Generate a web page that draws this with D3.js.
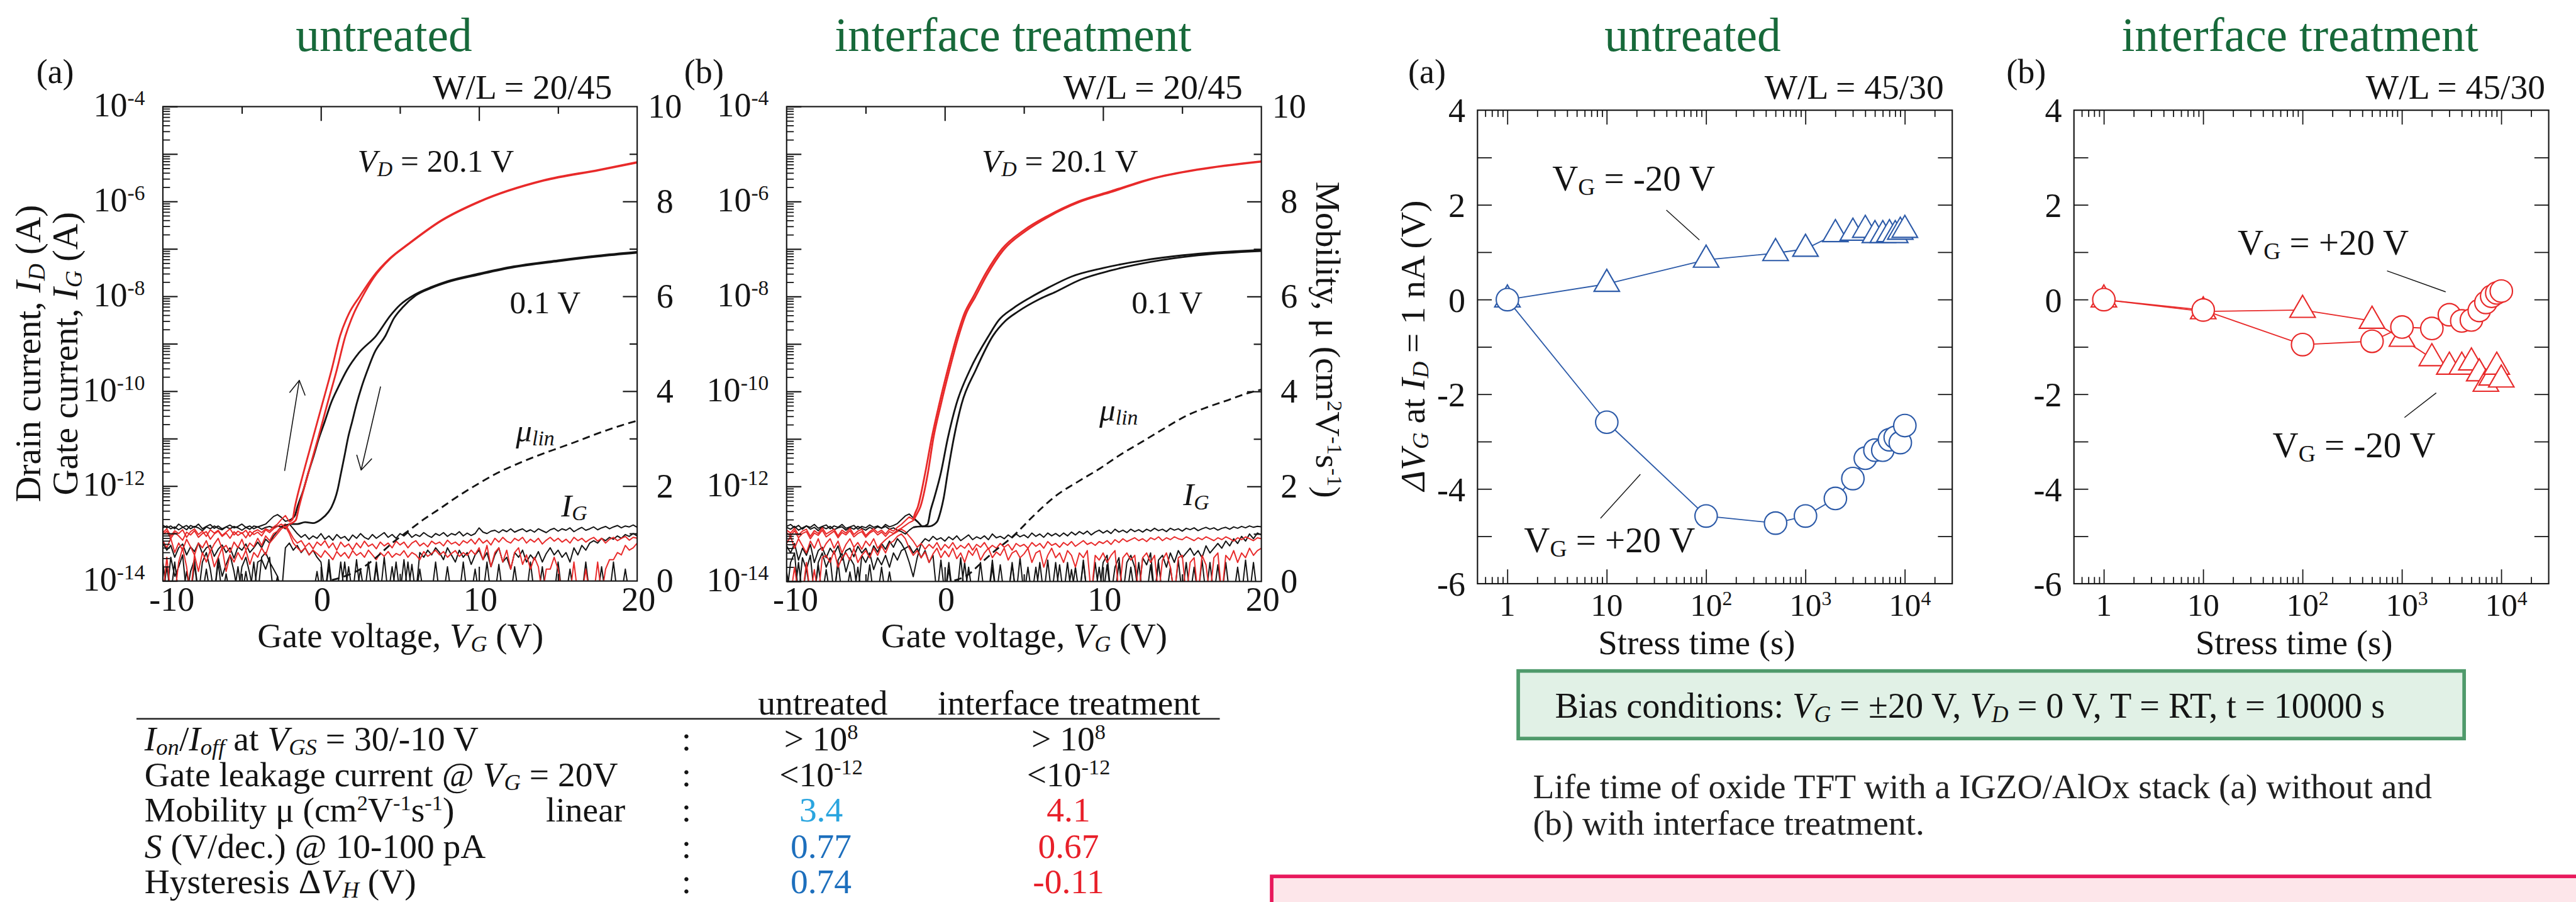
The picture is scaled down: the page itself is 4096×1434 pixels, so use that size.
<!DOCTYPE html>
<html>
<head>
<meta charset="utf-8">
<title>IGZO/AlOx TFT transfer curves and bias stress</title>
<style>
  body { margin: 0; background: #fff; }
  svg { display: block; }
  text { font-family: "Liberation Serif", "Times New Roman", Times, serif; }
</style>
</head>
<body>
<svg id="fig" width="4096" height="1434" viewBox="0 0 5757 2015"></svg>
<script src="https://d3js.org/d3.v7.min.js"></script>
<script>
// ---------- data (log10 of current in A, mobility in cm2/Vs, shift in V) ----------

// noise traces are sampled every 0.25 V starting at -10 V
var NOISE_VG0 = -10, NOISE_STEP = 0.25;

// panel (a) untreated : off-state drain current, -10 .. -2 V
var offBlkA1 = [-12.82,-12.88,-12.84,-12.9,-12.8,-12.86,-12.92,-12.83,-12.87,-12.8,
  -12.9,-12.85,-12.81,-12.89,-12.84,-12.9,-12.86,-12.82,-12.88,-12.85,
  -12.8,-12.87,-12.91,-12.84,-12.86,-12.83,-12.8,-12.72,-12.64,-12.6,-12.66,-12.74,-12.72];
var offBlkA2 = [-12.88,-12.84,-12.9,-12.86,-12.92,-12.87,-12.83,-12.9,-12.85,-12.88,
  -12.94,-12.86,-12.9,-12.84,-12.89,-12.92,-12.86,-12.9,-12.85,-12.88,
  -12.93,-12.87,-12.84,-12.9,-12.86,-12.91,-12.87,-12.85,-12.88,-12.84,-12.86,-12.82,-12.8];
var offRedA1 = [-12.98,-12.9,-13.05,-12.94,-13.0,-12.92,-13.08,-12.96,-12.9,-13.02,
  -12.95,-13.06,-12.92,-12.99,-12.93,-13.04,-12.97,-12.9,-13.03,-12.95,
  -13.0,-12.93,-13.06,-12.96,-12.92,-12.98,-12.9,-12.94,-12.86,-12.8,-12.7,-12.62,-12.75];
var offRedA2 = [-13.02,-12.95,-13.1,-12.98,-13.05,-13.14,-12.97,-13.03,-12.94,-13.08,
  -13.0,-12.96,-13.12,-13.01,-12.95,-13.06,-12.99,-13.1,-12.96,-13.04,
  -12.98,-13.09,-12.95,-13.02,-12.97,-13.05,-12.92,-12.98,-12.9,-12.85,-12.8,-12.88,-12.8];

// panel (a) gate current traces, -10 .. 20 V
var igBlkA1 = [-13.2,-13.35,-13.25,-13.5,-13.3,-13.22,-13.45,-13.28,-13.38,-13.2,
  -13.42,-13.3,-13.25,-13.48,-13.33,-13.24,-13.4,-13.3,-13.52,-13.28,
  -13.35,-13.22,-13.4,-13.3,-13.18,-13.3,-13.12,-13.2,-13.05,-12.95,
  -12.85,-12.9,-12.8,-12.9,-13.0,-13.08,-13.02,-13.12,-13.05,-13.1,
  -13.0,-13.12,-13.05,-13.14,-13.02,-13.1,-13.06,-13.15,-13.03,-13.1,
  -13.0,-13.08,-13.12,-13.02,-13.1,-13.04,-12.98,-13.08,-13.02,-13.1,
  -13.0,-13.05,-12.98,-13.08,-13.02,-13.06,-12.98,-13.04,-13.08,-13.0,
  -13.04,-12.98,-13.06,-13.0,-13.03,-12.96,-13.05,-12.99,-13.04,-13.0,
  -12.88,-12.97,-13.0,-12.95,-12.93,-12.98,-12.92,-12.96,-12.9,-12.97,
  -12.93,-12.9,-12.96,-12.92,-12.97,-12.9,-12.94,-12.98,-12.92,-12.89,
  -12.95,-12.9,-12.93,-12.88,-12.96,-12.91,-12.87,-12.93,-12.9,-12.86,
  -12.92,-12.88,-12.85,-12.9,-12.86,-12.83,-12.88,-12.84,-12.86,-12.82,-12.87];
var igBlkA2 = [-13.6,-14.3,-13.5,-13.9,-13.7,-13.45,-14.3,-13.8,-13.55,-14.3,
  -13.6,-13.4,-13.75,-14.3,-13.5,-13.9,-13.65,-13.45,-13.8,-14.3,
  -13.7,-13.5,-13.85,-14.3,-13.6,-13.55,-13.75,-13.5,-14.3,-13.9,
  -14.3,-13.3,-13.2,-13.35,-13.25,-13.4,-13.3,-13.45,-13.35,-13.5,
  -13.6,-14.3,-13.55,-14.3,-14.3,-13.6,-14.3,-13.7,-14.3,-13.55,
  -14.3,-14.3,-13.6,-14.3,-13.7,-14.3,-13.5,-14.3,-14.3,-13.6,
  -14.3,-13.55,-14.3,-13.65,-14.3,-13.4,-13.5,-13.35,-13.45,-13.3,
  -13.4,-13.55,-13.3,-13.45,-13.6,-13.35,-13.5,-13.4,-13.65,-13.45,
  -13.35,-13.55,-13.4,-13.7,-13.45,-13.3,-13.6,-13.5,-13.75,-13.4,
  -13.5,-13.35,-13.6,-13.45,-13.55,-13.38,-13.6,-13.42,-13.3,-13.45,
  -13.35,-13.5,-13.4,-13.6,-13.3,-13.45,-13.25,-13.35,-13.2,-13.15,
  -13.2,-13.1,-13.15,-13.08,-13.12,-13.05,-13.1,-13.02,-13.06,-13.0,-13.05];
var igBlkA3 = [-14.3,-13.7,-14.3,-13.6,-14.3,-14.3,-13.8,-14.3,-13.65,-14.3,
  -14.3,-13.75,-14.3,-14.3,-13.6,-14.3,-13.85,-14.3,-14.3,-13.7,
  -14.3,-13.8,-14.3,-13.6,-14.3,-13.5,-13.4,-13.6,-13.75,-13.9,
  -14.3,-14.3,-14.3,-14.3,-14.3,-14.3,-14.3,-14.3,-14.3,-13.8,
  -14.3,-14.3,-13.7,-14.3,-14.3,-14.3,-13.6,-14.3,-14.3,-14.3,
  -13.75,-14.3,-14.3,-14.3,-13.6,-14.3,-14.3,-14.3,-13.7,-14.3,
  -14.3,-14.3,-13.6,-14.3,-14.3,-13.75,-14.3,-14.3,-14.3,-13.6,
  -14.3,-14.3,-13.7,-14.3,-14.3,-14.3,-13.6,-14.3,-14.3,-13.75,
  -14.3,-14.3,-13.6,-14.3,-14.3,-13.65,-14.3,-14.3,-14.3,-13.7,
  -14.3,-14.3,-14.3,-13.6,-14.3,-14.3,-13.7,-14.3,-14.3,-14.3,
  -13.6,-14.3,-14.3,-13.75,-14.3,-14.3,-14.3,-13.6,-14.3,-14.3,
  -14.3,-13.7,-14.3,-14.3,-13.6,-14.3,-14.3,-13.75,-14.3,-14.3,-14.3];
var igRedA1 = [-13.15,-13.3,-13.1,-13.4,-13.2,-13.35,-13.12,-13.28,-13.45,-13.2,
  -13.3,-13.15,-13.38,-13.22,-13.1,-13.32,-13.25,-13.4,-13.18,-13.3,
  -13.12,-13.35,-13.2,-13.28,-13.1,-13.25,-13.05,-13.15,-13.0,-12.95,
  -12.85,-12.8,-12.95,-13.1,-13.2,-13.15,-13.28,-13.2,-13.32,-13.18,
  -13.25,-13.15,-13.3,-13.2,-13.35,-13.18,-13.28,-13.22,-13.34,-13.2,
  -13.3,-13.16,-13.27,-13.22,-13.32,-13.18,-13.26,-13.2,-13.3,-13.16,
  -13.24,-13.18,-13.3,-13.2,-13.15,-13.26,-13.2,-13.28,-13.16,-13.22,
  -13.18,-13.26,-13.14,-13.22,-13.18,-13.25,-13.15,-13.2,-13.12,-13.22,
  -13.1,-13.2,-13.14,-13.24,-13.1,-13.18,-13.08,-13.16,-13.2,-13.1,
  -13.15,-13.08,-13.2,-13.12,-13.18,-13.1,-13.22,-13.14,-13.08,-13.16,
  -13.1,-13.18,-13.12,-13.2,-13.08,-13.15,-13.1,-13.18,-13.12,-13.08,
  -13.16,-13.1,-13.2,-13.12,-13.08,-13.15,-13.1,-13.06,-13.14,-13.08,-13.1];
var igRedA2 = [-14.3,-13.5,-14.3,-14.3,-13.6,-13.3,-13.7,-14.3,-13.45,-13.8,
  -13.4,-13.6,-13.35,-13.7,-13.5,-13.3,-13.8,-13.45,-13.6,-13.4,
  -13.55,-13.35,-13.65,-13.4,-13.5,-13.3,-13.45,-13.2,-13.1,-13.0,
  -12.9,-12.85,-13.0,-13.2,-13.3,-13.38,-13.3,-13.45,-13.35,-13.42,
  -13.5,-13.36,-13.45,-13.55,-13.38,-13.48,-13.4,-13.52,-13.36,-13.46,
  -13.4,-13.5,-13.35,-13.45,-13.55,-13.4,-13.48,-13.38,-13.5,-13.42,
  -13.46,-13.36,-13.5,-13.4,-13.45,-13.55,-13.38,-13.48,-13.42,-13.35,
  -13.45,-13.38,-13.5,-13.42,-13.36,-13.48,-13.4,-13.46,-13.35,-13.44,
  -13.3,-13.55,-13.25,-13.7,-13.4,-13.3,-13.6,-13.35,-13.75,-13.4,
  -13.3,-13.65,-13.45,-13.75,-13.5,-13.7,-14.3,-13.75,-13.75,-13.5,
  -13.75,-14.3,-14.3,-14.3,-13.6,-14.3,-14.3,-13.75,-14.3,-14.3,
  -13.6,-14.3,-13.75,-13.55,-13.55,-13.4,-13.45,-13.25,-13.35,-13.3,-13.2];

// panel (a) transfer curves (V_G in V, log10 I_D)
var vgRedFwdA = [-2,-1.8,-1.65,-1.11,-0.52,0.08,0.67,1.21,1.77,2.45,3.26,4.35,5.5,7.6,10,14.1,17.6,20];
var idRedFwdA = [-12.75,-12.7,-12.44,-11.72,-11.0,-10.27,-9.55,-8.83,-8.36,-8.0,-7.6,-7.2,-6.9,-6.4,-6.0,-5.55,-5.33,-5.17];
var vgRedRevA = [-2,-1.6,-1.39,-0.8,-0.19,0.4,1.0,1.55,2.05,2.6,3.35,4.4,5.5,7.6,10,14.1,17.6,20];
var idRedRevA = [-12.8,-12.72,-12.44,-11.72,-11.0,-10.27,-9.55,-8.83,-8.38,-8.02,-7.6,-7.2,-6.91,-6.41,-6.01,-5.56,-5.34,-5.18];
var vgBlkFwdA = [-2,-1.65,-1.49,-1.11,-0.8,-0.46,-0.14,0.25,0.61,1.1,1.65,2.4,3.49,4.4,5,6,7,8,10,12,15,17.5,20];
var idBlkFwdA = [-12.72,-12.62,-12.44,-12.08,-11.72,-11.36,-11.0,-10.63,-10.27,-9.91,-9.55,-9.19,-8.83,-8.4,-8.18,-7.95,-7.8,-7.68,-7.52,-7.38,-7.24,-7.14,-7.06];
var vgBlkRevA = [-2,-1.5,-1,-0.5,0,0.46,0.67,1.05,1.27,1.49,1.7,1.98,2.25,2.57,2.95,3.38,4.08,4.6,5.2,6,7,8,10,12,15,17.5,20];
var idBlkRevA = [-12.8,-12.8,-12.76,-12.78,-12.7,-12.55,-12.44,-12.08,-11.72,-11.36,-11.0,-10.63,-10.27,-9.91,-9.55,-9.19,-8.83,-8.47,-8.22,-7.98,-7.82,-7.7,-7.54,-7.4,-7.26,-7.16,-7.08];

// panel (a) linear mobility
var vgMuA = [0.7,1.5,2.5,3.5,4.5,5.5,6.5,7.5,8.5,10,11,12.5,14,15,16,17.5,19,20];
var muA = [0.02,0.1,0.25,0.5,0.8,1.05,1.3,1.52,1.75,2.06,2.25,2.48,2.68,2.8,2.92,3.11,3.28,3.38];

// panel (b) interface treatment : off-state drain current, -10 .. -2 V
var offBlkB1 = [-12.84,-12.8,-12.87,-12.82,-12.9,-12.83,-12.86,-12.8,-12.88,-12.84,
  -12.81,-12.89,-12.83,-12.86,-12.8,-12.88,-12.85,-12.82,-12.9,-12.84,
  -12.87,-12.81,-12.86,-12.83,-12.88,-12.8,-12.85,-12.82,-12.78,-12.7,-12.62,-12.58,-12.66];
var offBlkB2 = [-12.86,-12.9,-12.84,-12.92,-12.87,-12.83,-12.9,-12.86,-12.93,-12.85,
  -12.89,-12.84,-12.91,-12.87,-12.85,-12.92,-12.86,-12.9,-12.84,-12.88,
  -12.92,-12.86,-12.9,-12.85,-12.88,-12.84,-12.9,-12.87,-12.92,-12.95,-13.0,-12.92,-12.86];
var offRedB1 = [-12.92,-12.98,-12.88,-13.02,-12.94,-12.9,-13.05,-12.93,-12.99,-12.87,
  -13.0,-12.95,-12.9,-13.04,-12.92,-12.98,-12.88,-13.01,-12.94,-12.9,
  -13.03,-12.95,-12.89,-12.97,-12.92,-13.0,-12.9,-12.94,-12.86,-12.8,-12.72,-12.64,-12.7];
var offRedB2 = [-12.97,-13.04,-12.93,-13.08,-12.99,-12.95,-13.1,-12.98,-13.03,-12.92,
  -13.06,-13.0,-12.94,-13.08,-12.97,-13.02,-12.93,-13.06,-12.99,-12.95,
  -13.07,-12.98,-12.93,-13.02,-12.96,-13.05,-12.95,-12.99,-12.92,-12.88,-12.82,-12.76,-12.72];

// panel (b) gate current traces, -10 .. 20 V
var igBlkB1 = [-13.25,-13.4,-13.2,-13.55,-13.3,-13.45,-13.22,-13.6,-13.35,-13.28,
  -13.5,-13.3,-13.42,-13.25,-13.55,-13.35,-13.3,-13.48,-13.26,-13.4,
  -13.3,-13.5,-13.25,-13.38,-13.2,-13.32,-13.15,-13.28,-13.1,-13.2,
  -13.35,-13.6,-13.9,-13.5,-13.2,-13.1,-13.15,-13.05,-13.12,-13.08,
  -13.15,-13.06,-13.12,-13.04,-13.14,-13.08,-13.02,-13.12,-13.06,-13.1,
  -13.04,-13.12,-13.0,-13.08,-13.05,-13.1,-13.02,-13.08,-13.0,-13.06,
  -13.02,-13.08,-12.98,-13.05,-13.0,-13.07,-12.98,-13.04,-12.99,-13.05,
  -12.98,-13.04,-12.96,-13.02,-12.95,-13.0,-12.94,-13.02,-12.96,-12.92,
  -12.98,-12.93,-12.99,-12.9,-12.96,-12.92,-12.97,-12.9,-12.95,-12.91,
  -12.96,-12.9,-12.94,-12.88,-12.93,-12.9,-12.95,-12.88,-12.92,-12.89,
  -12.94,-12.88,-12.91,-12.87,-12.93,-12.89,-12.86,-12.9,-12.87,-12.92,
  -12.88,-12.86,-12.9,-12.85,-12.88,-12.84,-12.87,-12.83,-12.86,-12.84,-12.85];
var igBlkB2 = [-14.3,-13.6,-13.4,-14.3,-13.5,-13.75,-13.45,-14.3,-13.6,-13.4,
  -13.7,-13.5,-14.3,-13.55,-13.4,-13.8,-13.5,-13.65,-14.3,-13.45,
  -13.6,-13.4,-13.75,-13.5,-13.65,-13.45,-13.7,-13.4,-13.55,-13.35,
  -13.3,-13.25,-13.4,-13.3,-13.5,-13.35,-13.6,-13.45,-14.3,-13.55,
  -14.3,-13.6,-14.3,-14.3,-13.5,-14.3,-13.7,-14.3,-14.3,-13.6,
  -14.3,-14.3,-13.55,-14.3,-13.65,-14.3,-14.3,-13.6,-14.3,-13.5,
  -14.3,-13.7,-14.3,-14.3,-13.6,-14.3,-13.55,-14.3,-14.3,-13.65,
  -14.3,-13.6,-14.3,-13.7,-14.3,-13.55,-14.3,-14.3,-13.6,-14.3,
  -13.6,-13.45,-14.3,-13.7,-13.5,-14.3,-13.6,-13.45,-13.7,-14.3,
  -13.5,-13.65,-13.4,-14.3,-13.55,-13.45,-13.7,-13.4,-13.6,-13.35,
  -13.5,-13.4,-13.3,-13.45,-13.35,-13.5,-13.25,-13.4,-13.3,-13.2,
  -13.3,-13.15,-13.25,-13.1,-13.2,-13.05,-13.15,-13.0,-13.1,-12.98,-13.02];
var igBlkB3 = [-13.8,-14.3,-14.3,-13.6,-14.3,-13.7,-14.3,-14.3,-13.65,-14.3,
  -13.75,-14.3,-14.3,-13.6,-14.3,-14.3,-13.8,-14.3,-13.7,-14.3,
  -14.3,-13.65,-14.3,-14.3,-13.7,-14.3,-13.8,-14.3,-14.3,-14.3,
  -14.3,-14.3,-14.3,-14.3,-14.3,-14.3,-14.3,-14.3,-14.3,-14.3,
  -14.3,-13.75,-14.3,-14.3,-14.3,-13.6,-14.3,-14.3,-14.3,-14.3,
  -14.3,-14.3,-13.7,-14.3,-14.3,-14.3,-14.3,-13.65,-14.3,-14.3,
  -14.3,-14.3,-14.3,-13.7,-14.3,-14.3,-14.3,-14.3,-13.6,-14.3,
  -14.3,-14.3,-13.75,-14.3,-14.3,-13.6,-14.3,-14.3,-14.3,-13.7,
  -14.3,-13.65,-14.3,-14.3,-13.6,-14.3,-14.3,-13.7,-14.3,-13.6,
  -14.3,-14.3,-13.65,-14.3,-13.6,-14.3,-14.3,-13.7,-14.3,-13.55,
  -14.3,-13.6,-14.3,-13.7,-14.3,-13.55,-14.3,-13.6,-14.3,-13.65,
  -14.3,-13.6,-14.3,-14.3,-13.7,-14.3,-13.55,-14.3,-13.6,-14.3,-14.3];
var igRedB1 = [-13.2,-13.05,-13.3,-13.1,-13.25,-13.4,-13.15,-13.3,-13.1,-13.35,
  -13.2,-13.1,-13.3,-13.15,-13.4,-13.22,-13.1,-13.28,-13.18,-13.32,
  -13.15,-13.25,-13.1,-13.3,-13.2,-13.12,-13.05,-13.0,-12.95,-12.9,
  -12.95,-13.05,-13.15,-13.28,-13.2,-13.32,-13.22,-13.3,-13.18,-13.34,
  -13.22,-13.3,-13.18,-13.32,-13.24,-13.3,-13.2,-13.34,-13.22,-13.28,
  -13.18,-13.32,-13.24,-13.3,-13.2,-13.28,-13.22,-13.34,-13.2,-13.26,
  -13.22,-13.3,-13.18,-13.26,-13.2,-13.3,-13.16,-13.24,-13.2,-13.28,
  -13.18,-13.24,-13.16,-13.26,-13.2,-13.14,-13.22,-13.18,-13.24,-13.16,
  -13.2,-13.14,-13.22,-13.12,-13.18,-13.1,-13.16,-13.12,-13.08,-13.14,
  -13.1,-13.16,-13.08,-13.12,-13.06,-13.14,-13.08,-13.12,-13.06,-13.1,
  -13.12,-13.06,-13.1,-13.14,-13.08,-13.12,-13.06,-13.1,-13.14,-13.08,
  -13.12,-13.06,-13.1,-13.15,-13.08,-13.12,-13.06,-13.1,-13.14,-13.08,-13.1];
var igRedB2 = [-14.3,-14.3,-13.7,-14.3,-14.3,-13.6,-14.3,-13.75,-14.3,-13.5,
  -13.45,-13.6,-13.35,-13.7,-13.5,-13.4,-13.55,-13.3,-13.6,-13.45,
  -13.35,-13.5,-13.3,-13.45,-13.25,-13.4,-13.2,-13.15,-13.05,-13.0,
  -13.1,-13.3,-13.45,-13.35,-13.5,-13.38,-13.6,-13.42,-13.3,-13.5,
  -13.36,-13.48,-13.3,-13.52,-13.4,-13.6,-13.35,-13.45,-13.3,-13.55,
  -13.4,-13.3,-13.5,-13.38,-13.45,-13.3,-13.55,-13.4,-13.35,-13.5,
  -13.42,-13.3,-13.6,-13.4,-13.35,-13.7,-13.45,-13.3,-13.5,-13.4,
  -13.6,-13.35,-13.45,-13.7,-13.4,-13.5,-13.35,-14.3,-13.45,-13.55,
  -13.4,-13.6,-13.45,-13.35,-14.3,-13.5,-13.4,-13.55,-13.45,-14.3,
  -13.5,-13.4,-13.6,-13.45,-14.3,-13.55,-13.4,-13.7,-14.3,-13.5,
  -13.45,-14.3,-13.6,-13.5,-14.3,-13.45,-13.65,-14.3,-13.5,-13.4,
  -14.3,-13.45,-13.55,-13.35,-13.6,-13.4,-13.5,-13.3,-13.45,-13.35,-13.3];

// panel (b) transfer curves
var vgRedFwdB = [-2,-1.93,-1.71,-1.24,-0.84,-0.36,0.18,0.77,1.23,1.8,2.6,3.6,5,6.5,8.4,10.5,13,16,20];
var idRedFwdB = [-12.7,-12.61,-12.43,-11.71,-10.99,-10.27,-9.54,-8.82,-8.36,-8.0,-7.5,-7.0,-6.6,-6.3,-6.0,-5.78,-5.52,-5.32,-5.15];
var vgRedRevB = [-2,-1.8,-1.55,-1.07,-0.73,-0.25,0.29,0.88,1.33,1.9,2.7,3.7,5.1,6.6,8.5,10.6,13,16,20];
var idRedRevB = [-12.72,-12.6,-12.43,-11.71,-10.99,-10.27,-9.54,-8.82,-8.37,-8.02,-7.52,-7.02,-6.62,-6.31,-6.01,-5.79,-5.53,-5.33,-5.16];
var vgBlkFwdB = [-2,-1.7,-1.4,-1.1,-0.9,-0.68,-0.25,0.18,0.72,1.59,2.78,3.4,4.3,5.4,6.5,8.0,10,12.7,16,20];
var idBlkFwdB = [-12.66,-12.75,-12.84,-12.8,-12.5,-12.25,-11.71,-10.99,-10.27,-9.54,-8.82,-8.5,-8.25,-8.02,-7.82,-7.58,-7.4,-7.23,-7.1,-7.02];
var vgBlkRevB = [-2,-1.5,-1.0,-0.6,-0.46,-0.25,-0.08,0.18,0.56,1.05,1.96,3.05,3.8,4.6,6.0,7.0,8.6,10.5,13,16,20];
var idBlkRevB = [-12.86,-12.84,-12.84,-12.78,-12.72,-12.5,-12.25,-11.71,-10.99,-10.27,-9.54,-8.82,-8.52,-8.32,-8.05,-7.9,-7.64,-7.45,-7.27,-7.13,-7.04];

// panel (b) linear mobility
var vgMuB = [0.6,1.5,2.2,3,4.4,5.5,7,8.5,9.8,11,12.5,14,15.2,16.5,17.9,19,20];
var muB = [0.02,0.15,0.36,0.6,0.98,1.35,1.8,2.12,2.38,2.65,2.95,3.25,3.48,3.66,3.82,3.95,4.04];

// axis tick labels, transfer panels
var vgTickLabels = [-10, 0, 10, 20];
var idExpLabels = [-14, -12, -10, -8, -6, -4];
var muTickLabels = [0, 2, 4, 6, 8, 10];

// bias stress : time (s) and threshold shift (V)
var stressTime = [1, 10, 100, 500, 1000, 2000, 3000, 4000, 5000, 6000, 7000, 8000, 9000, 10000];
var dvNegUntreated = [0, 0.33, 0.84, 0.98, 1.07, 1.38, 1.41, 1.47, 1.36, 1.36, 1.38, 1.36, 1.43, 1.47];
var dvPosUntreated = [0, -2.59, -4.57, -4.72, -4.57, -4.2, -3.78, -3.35, -3.18, -3.18, -2.96, -2.91, -3.02, -2.66];
var dvPosTreated = [0, -0.22, -0.95, -0.88, -0.58, -0.61, -0.32, -0.45, -0.43, -0.23, -0.06, 0.07, 0.14, 0.18];
var dvNegTreated = [0, -0.25, -0.22, -0.45, -0.83, -1.24, -1.42, -1.42, -1.33, -1.56, -1.78, -1.65, -1.42, -1.69];
var stressExpLabels = [0, 1, 2, 3, 4];
var dvTickLabels = [-6, -4, -2, 0, 2, 4];

// summary table
var tableCols = ["untreated", "interface treatment"];
var untreatedVals = [["> 10", "8"], ["<10", "-12"], ["3.4"], ["0.77"], ["0.74"]];
var treatedVals = [["> 10", "8"], ["<10", "-12"], ["4.1"], ["0.67"], ["-0.11"]];

// ---------- drawing ----------
var svg = d3.select("#fig");
var INK = "#141414";
var RED = "#e82a2a";
var BLUE = "#2c5aa8";
var GREEN = "#17693a";

svg.append("rect").attr("width", 5757).attr("height", 2015).attr("fill", "#fff");

// text with italic / subscript / superscript pieces
function rich(parent, x, y, parts, size, anchor, fill) {
  var t = parent.append("text")
      .attr("x", x).attr("y", y)
      .attr("font-size", size)
      .attr("text-anchor", anchor || "start")
      .attr("fill", fill || INK);
  var shift = 0;
  parts.forEach(function(p) {
    var s = p[1] || "";
    var target = 0, fs = null;
    if (s.indexOf("_") >= 0) { target = size * 0.12; fs = size * 0.66; }
    if (s.indexOf("^") >= 0) { target = -size * 0.33; fs = size * 0.62; }
    var ts = t.append("tspan").attr("dy", target - shift).text(p[0]);
    shift = target;
    if (fs) ts.attr("font-size", fs);
    if (s.indexOf("i") >= 0) ts.attr("font-style", "italic");
  });
  return t;
}

function tickAxis(g, axis, len, vals, width) {
  g.call(axis.tickValues(vals).tickSizeInner(-len).tickSizeOuter(0).tickFormat(""));
  g.select(".domain").remove();
  g.attr("color", INK).selectAll(".tick line").attr("stroke-width", width);
}

function pairs(xs, ys) { return xs.map(function(v, i) { return [v, ys[i]]; }); }
function onGrid(vals) { return vals.map(function(v, i) { return [NOISE_VG0 + NOISE_STEP * i, v]; }); }

function drawIV(P, d) {
  var g = svg.append("g").attr("transform", "translate(" + P.x + "," + P.y + ")");
  var x = d3.scaleLinear().domain([-10, 20]).range([0, P.w]);
  var y = d3.scaleLog().domain([1e-14, 1e-4]).range([P.h, 0]);
  var ym = d3.scaleLinear().domain([0, 10]).range([P.h, 0]);

  g.append("clipPath").attr("id", "clip-" + d.id)
    .append("rect").attr("width", P.w).attr("height", P.h);
  var plot = g.append("g").attr("clip-path", "url(#clip-" + d.id + ")");

  var jag = d3.line().x(function(p) { return x(p[0]); })
      .y(function(p) { return y(Math.pow(10, p[1])); });
  var smooth = d3.line().curve(d3.curveMonotoneX)
      .x(function(p) { return x(p[0]); })
      .y(function(p) { return y(Math.pow(10, p[1])); });
  var muLine = d3.line().curve(d3.curveMonotoneX)
      .x(function(p) { return x(p[0]); })
      .y(function(p) { return ym(p[1]); });

  function stroke(path, col, w) {
    return path.attr("fill", "none").attr("stroke", col).attr("stroke-width", w)
      .attr("stroke-linejoin", "round");
  }
  d.igBlk.forEach(function(a) { stroke(plot.append("path").attr("d", jag(onGrid(a))), INK, 2.8); });
  d.igRed.forEach(function(a) { stroke(plot.append("path").attr("d", jag(onGrid(a))), RED, 2.8); });
  d.offBlk.forEach(function(a) { stroke(plot.append("path").attr("d", jag(onGrid(a))), INK, 2.8); });
  d.offRed.forEach(function(a) { stroke(plot.append("path").attr("d", jag(onGrid(a))), RED, 2.8); });
  d.idBlk.forEach(function(c) { stroke(plot.append("path").attr("d", smooth(pairs(c[0], c[1]))), INK, 4); });
  d.idRed.forEach(function(c) { stroke(plot.append("path").attr("d", smooth(pairs(c[0], c[1]))), RED, 4); });
  stroke(plot.append("path").attr("d", muLine(pairs(d.mu[0], d.mu[1]))), INK, 4)
    .attr("stroke-dasharray", "17,10");

  (d.arrows || []).forEach(function(a) {
    var pts = [a.from, a.to];
    stroke(g.append("path").attr("d", jag(pts)), INK, 2.2);
    stroke(g.append("path").attr("d", jag([a.arms[0], a.to, a.arms[1]])), INK, 2.2);
  });

  // frame and ticks
  g.append("rect").attr("width", P.w).attr("height", P.h)
    .attr("fill", "none").attr("stroke", INK).attr("stroke-width", 3);

  var decades = [], minors = [];
  for (var e = -14; e <= -4; e++) {
    decades.push(Math.pow(10, e));
    if (e < -4) for (var m = 2; m <= 9; m++) minors.push(m * Math.pow(10, e));
  }
  tickAxis(g.append("g"), d3.axisLeft(y), 33, decades, 3);
  tickAxis(g.append("g"), d3.axisLeft(y), 16, minors, 2.5);
  tickAxis(g.append("g"), d3.axisTop(x), 32, [0, 10], 3);
  tickAxis(g.append("g"), d3.axisTop(x), 16, [-5, 5, 15], 3);
  tickAxis(g.append("g").attr("transform", "translate(0," + P.h + ")"), d3.axisBottom(x), 32, [0, 10], 3);
  tickAxis(g.append("g").attr("transform", "translate(0," + P.h + ")"), d3.axisBottom(x), 16, [-5, 5, 15], 3);
  tickAxis(g.append("g").attr("transform", "translate(" + P.w + ",0)"), d3.axisRight(ym), 32, [2, 4, 6, 8], 3);
  tickAxis(g.append("g").attr("transform", "translate(" + P.w + ",0)"), d3.axisRight(ym), 17, [1, 3, 5, 7, 9], 3);

  // tick labels
  idExpLabels.forEach(function(e) {
    rich(g, -40, y(Math.pow(10, e)) + 22, [["10"], [String(e), "^"]], 76, "end");
  });
  vgTickLabels.forEach(function(v) {
    g.append("text").attr("x", x(v) + (v < 0 ? 20 : 3)).attr("y", P.h + 66)
      .attr("text-anchor", "middle").attr("font-size", 76).attr("fill", INK).text(v);
  });
  muTickLabels.forEach(function(v) {
    g.append("text").attr("x", P.w + 62).attr("y", ym(v) + 25)
      .attr("text-anchor", "middle").attr("font-size", 76).attr("fill", INK).text(v);
  });

  // axis title below
  rich(svg, d.xTitleX, 1446, [["Gate voltage, "], ["V", "i"], ["G", "i_"], [" (V)"]], 77, "middle");
}

function drawStress(P, d) {
  var g = svg.append("g").attr("transform", "translate(" + P.x + "," + P.y + ")");
  var x = d3.scaleLog().domain([0.5, 3e4]).range([0, P.w]);
  var y = d3.scaleLinear().domain([-6, 4]).range([P.h, 0]);
  var ln = d3.line().x(function(p) { return x(p[0]); }).y(function(p) { return y(p[1]); });

  [d.tri, d.circ].forEach(function(vals) {
    g.append("path").attr("d", ln(pairs(stressTime, vals)))
      .attr("fill", "none").attr("stroke", d.color).attr("stroke-width", 2.6);
  });
  g.selectAll(null).data(pairs(stressTime, d.tri)).join("path")
    .attr("transform", function(p) { return "translate(" + x(p[0]) + "," + y(p[1]) + ")"; })
    .attr("d", d3.symbol(d3.symbolTriangle, 1400)())
    .attr("fill", "#fff").attr("stroke", d.color).attr("stroke-width", 3);
  g.selectAll(null).data(pairs(stressTime, d.circ)).join("circle")
    .attr("cx", function(p) { return x(p[0]); })
    .attr("cy", function(p) { return y(p[1]); })
    .attr("r", 25)
    .attr("fill", "#fff").attr("stroke", d.color).attr("stroke-width", 3);

  // leader lines for the annotations
  d.leaders.forEach(function(l) {
    g.append("path").attr("d", ln(l)).attr("stroke", INK).attr("stroke-width", 2).attr("fill", "none");
  });

  g.append("rect").attr("width", P.w).attr("height", P.h)
    .attr("fill", "none").attr("stroke", INK).attr("stroke-width", 3);

  var dec = [1, 10, 100, 1000, 10000], minor = [];
  for (var e = -1; e <= 4; e++) {
    for (var m = 2; m <= 9; m++) {
      var v = m * Math.pow(10, e);
      if (v > 0.5 && v < 3e4) minor.push(v);
    }
  }
  var ints = [-5, -4, -3, -2, -1, 0, 1, 2, 3];
  tickAxis(g.append("g"), d3.axisTop(x), 32, dec, 2.5);
  tickAxis(g.append("g"), d3.axisTop(x), 15, minor, 2.5);
  tickAxis(g.append("g").attr("transform", "translate(0," + P.h + ")"), d3.axisBottom(x), 32, dec, 2.5);
  tickAxis(g.append("g").attr("transform", "translate(0," + P.h + ")"), d3.axisBottom(x), 15, minor, 2.5);
  tickAxis(g.append("g"), d3.axisLeft(y), 32, ints, 2.5);
  tickAxis(g.append("g").attr("transform", "translate(" + P.w + ",0)"), d3.axisRight(y), 32, ints, 2.5);

  dvTickLabels.forEach(function(v) {
    g.append("text").attr("x", -27).attr("y", y(v) + 27)
      .attr("text-anchor", "end").attr("font-size", 76).attr("fill", INK).text(v);
  });
  stressExpLabels.forEach(function(e) {
    var tx = x(Math.pow(10, e));
    if (e === 0) rich(g, tx, P.h + 72, [["1"]], 72, "middle");
    else if (e === 1) rich(g, tx, P.h + 72, [["10"]], 72, "middle");
    else rich(g, tx - 36, P.h + 72, [["10"], [String(e), "^"]], 72, "start");
  });

  rich(svg, d.xTitleX, 1462, [["Stress time (s)"]], 77, "middle");
}

// ---------- panels ----------
var PA = {x: 364, y: 238, w: 1060, h: 1060};
var PB = {x: 1758, y: 238, w: 1061, h: 1061};
var PC = {x: 3302, y: 246, w: 1061, h: 1058};
var PD = {x: 4635, y: 246, w: 1061, h: 1058};

drawIV(PA, {
  id: "a",
  offBlk: [offBlkA1, offBlkA2], offRed: [offRedA1, offRedA2],
  igBlk: [igBlkA3, igBlkA2, igBlkA1], igRed: [igRedA2, igRedA1],
  idBlk: [[vgBlkFwdA, idBlkFwdA], [vgBlkRevA, idBlkRevA]],
  idRed: [[vgRedFwdA, idRedFwdA], [vgRedRevA, idRedRevA]],
  mu: [vgMuA, muA],
  arrows: [
    {from: [-2.3, -11.68], to: [-1.37, -9.77], arms: [[-1.99, -10.03], [-1.0, -10.09]]},
    {from: [3.77, -9.9], to: [2.54, -11.66], arms: [[2.26, -11.34], [3.22, -11.42]]}
  ],
  xTitleX: 895
});

drawIV(PB, {
  id: "b",
  offBlk: [offBlkB1, offBlkB2], offRed: [offRedB1, offRedB2],
  igBlk: [igBlkB3, igBlkB2, igBlkB1], igRed: [igRedB2, igRedB1],
  idBlk: [[vgBlkFwdB, idBlkFwdB], [vgBlkRevB, idBlkRevB]],
  idRed: [[vgRedFwdB, idRedFwdB], [vgRedRevB, idRedRevB]],
  mu: [vgMuB, muB],
  xTitleX: 2289
});

drawStress(PC, {
  color: BLUE, tri: dvNegUntreated, circ: dvPosUntreated,
  leaders: [[[39.8, 1.89], [85.6, 1.26]], [[21.8, -3.69], [8.65, -4.62]]],
  xTitleX: 3792
});

drawStress(PD, {
  color: RED, tri: dvNegTreated, circ: dvPosTreated,
  leaders: [[[708, 0.607], [2754, 0.163]], [[1061, -2.49], [2213, -1.97]]],
  xTitleX: 5127
});

// ---------- panel texts ----------
[[858, "untreated"], [2264, "interface treatment"], [3783, "untreated"], [5140, "interface treatment"]]
  .forEach(function(t) {
    svg.append("text").attr("x", t[0]).attr("y", 114).attr("text-anchor", "middle")
      .attr("font-size", 106).attr("fill", GREEN).text(t[1]);
  });

[[81, "(a)"], [1529, "(b)"], [3147, "(a)"], [4484, "(b)"]].forEach(function(t) {
  svg.append("text").attr("x", t[0]).attr("y", 185).attr("font-size", 76).attr("fill", INK).text(t[1]);
});

[[1368, "W/L = 20/45"], [2777, "W/L = 20/45"], [4344, "W/L = 45/30"], [5688, "W/L = 45/30"]]
  .forEach(function(t) {
    svg.append("text").attr("x", t[0]).attr("y", 221).attr("text-anchor", "end")
      .attr("font-size", 78).attr("fill", INK).text(t[1]);
  });

// transfer-curve labels
rich(svg, 799, 384, [["V", "i"], ["D", "i_"], [" = 20.1 V"]], 72);
rich(svg, 2194, 384, [["V", "i"], ["D", "i_"], [" = 20.1 V"]], 72);
rich(svg, 1139, 700, [["0.1 V"]], 72);
rich(svg, 2529, 700, [["0.1 V"]], 72);
rich(svg, 1153, 986, [["μ", "i"], ["lin", "i_"]], 72);
rich(svg, 2457, 940, [["μ", "i"], ["lin", "i_"]], 72);
rich(svg, 1254, 1153, [["I", "i"], ["G", "i_"]], 72);
rich(svg, 2644, 1129, [["I", "i"], ["G", "i_"]], 72);

// left axis titles of panel (a)
var yl = svg.append("g").attr("transform", "translate(90,790) rotate(-90)");
rich(yl, 0, 0, [["Drain current, "], ["I", "i"], ["D", "i_"], [" (A)"]], 80, "middle");
var yl2 = svg.append("g").attr("transform", "translate(173,790) rotate(-90)");
rich(yl2, 0, 0, [["Gate current, "], ["I", "i"], ["G", "i_"], [" (A)"]], 80, "middle");

// right axis title of panel (b)
var yr = svg.append("g").attr("transform", "translate(2942,759) rotate(90)");
rich(yr, 0, 0, [["Mobility, μ (cm"], ["2", "^"], ["V"], ["-1", "^"], ["s"], ["-1", "^"], [")"]], 78, "middle");

// stress panel annotations
rich(svg, 3469, 426, [["V"], ["G", "_"], [" = -20 V"]], 80);
rich(svg, 3406, 1234, [["V"], ["G", "_"], [" = +20 V"]], 80);
rich(svg, 5001, 569, [["V"], ["G", "_"], [" = +20 V"]], 80);
rich(svg, 5079, 1022, [["V"], ["G", "_"], [" = -20 V"]], 80);

var ylc = svg.append("g").attr("transform", "translate(3183,772) rotate(-90)");
rich(ylc, 0, 0, [["Δ", "i"], ["V", "i"], ["G", "i_"], [" at "], ["I", "i"], ["D", "i_"], [" = 1 nA (V)"]], 78, "middle");

// ---------- table ----------
var TBL = {left: 323, colon: 1534, c1: 1835, c2: 2388, rows: [1677, 1756, 1836, 1917, 1996]};
svg.append("text").attr("x", 1839).attr("y", 1596).attr("text-anchor", "middle")
  .attr("font-size", 78).attr("fill", INK).text(tableCols[0]);
svg.append("text").attr("x", 2389).attr("y", 1596).attr("text-anchor", "middle")
  .attr("font-size", 78).attr("fill", INK).text(tableCols[1]);
svg.append("line").attr("x1", 305).attr("x2", 2726).attr("y1", 1606).attr("y2", 1606)
  .attr("stroke", "#222").attr("stroke-width", 3.5);

var rowLabels = [
  [["I", "i"], ["on", "i_"], ["/"], ["I", "i"], ["off", "i_"], [" at "], ["V", "i"], ["GS", "i_"], [" = 30/-10 V"]],
  [["Gate leakage current @ "], ["V", "i"], ["G", "i_"], [" = 20V"]],
  [["Mobility μ (cm"], ["2", "^"], ["V"], ["-1", "^"], ["s"], ["-1", "^"], [")"]],
  [["S", "i"], [" (V/dec.) @ 10-100 pA"]],
  [["Hysteresis Δ"], ["V", "i"], ["H", "i_"], [" (V)"]]
];
var valColors1 = [INK, INK, "#2aa5df", "#1d6fbd", "#1d6fbd"];
var valColors2 = [INK, INK, "#e8202a", "#e8202a", "#e8202a"];
rowLabels.forEach(function(parts, i) {
  var yy = TBL.rows[i];
  rich(svg, TBL.left, yy, parts, 78);
  svg.append("text").attr("x", TBL.colon).attr("y", yy).attr("text-anchor", "middle")
    .attr("font-size", 78).attr("fill", INK).text(":");
  var v1 = untreatedVals[i], v2 = treatedVals[i];
  rich(svg, TBL.c1, yy, v1.length > 1 ? [[v1[0]], [v1[1], "^"]] : [[v1[0]]], 78, "middle", valColors1[i]);
  rich(svg, TBL.c2, yy, v2.length > 1 ? [[v2[0]], [v2[1], "^"]] : [[v2[0]]], 78, "middle", valColors2[i]);
});
svg.append("text").attr("x", 1220).attr("y", TBL.rows[2]).attr("font-size", 78).attr("fill", INK).text("linear");

// ---------- bias box, caption, bottom box ----------
svg.append("rect").attr("x", 3393).attr("y", 1499).attr("width", 2114).attr("height", 151)
  .attr("fill", "#e1f1e6").attr("stroke", "#4f9a6b").attr("stroke-width", 8);
rich(svg, 3475, 1604, [["Bias conditions: "], ["V", "i"], ["G", "i_"], [" = ±20 V, "], ["V", "i"], ["D", "i_"],
  [" = 0 V, T = RT, t = 10000 s"]], 79);

svg.append("text").attr("x", 3426).attr("y", 1784).attr("font-size", 78).attr("fill", "#222")
  .text("Life time of oxide TFT with a IGZO/AlOx stack (a) without and");
svg.append("text").attr("x", 3426).attr("y", 1865).attr("font-size", 78).attr("fill", "#222")
  .text("(b) with interface treatment.");

svg.append("rect").attr("x", 2842).attr("y", 1958).attr("width", 3000).attr("height", 200)
  .attr("fill", "#fde6ea").attr("stroke", "#e8185c").attr("stroke-width", 8);
</script>
</body>
</html>
